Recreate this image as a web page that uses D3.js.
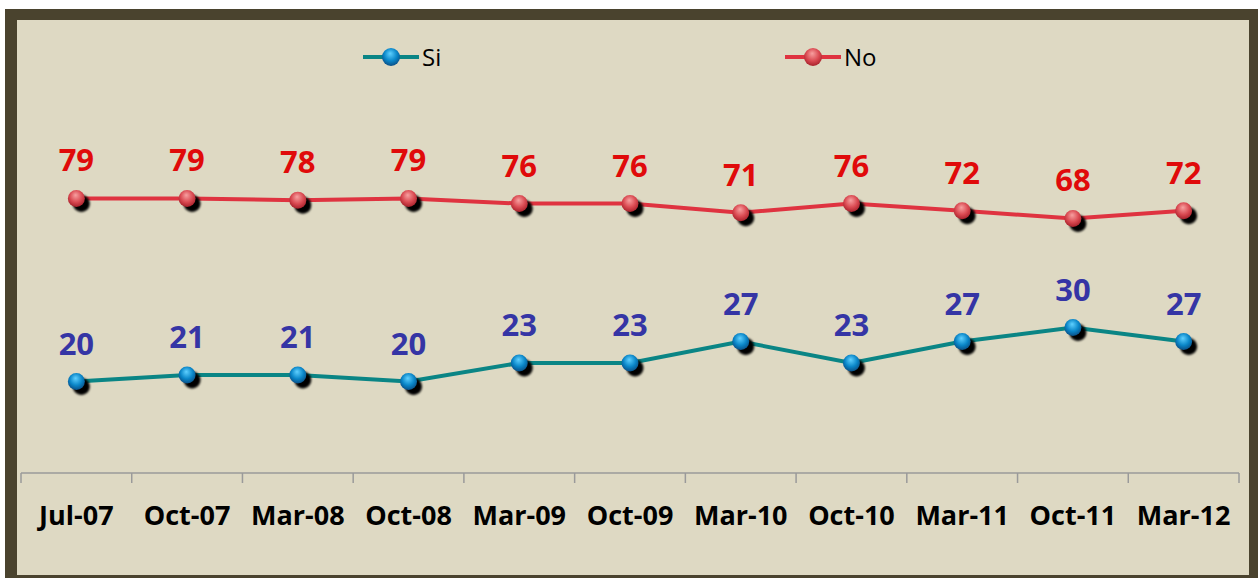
<!DOCTYPE html>
<html>
<head>
<meta charset="utf-8">
<script src="https://cdn.jsdelivr.net/npm/d3@7"></script>
<style>
  body { margin: 0; background: #fff; }
  svg { display: block; font-family: "Open Sans", sans-serif; }
</style>
</head>
<body>
<svg width="1258" height="578"></svg>
<script>
const svg = d3.select("svg");

// data
const periods = ["Jul-07", "Oct-07", "Mar-08", "Oct-08", "Mar-09", "Oct-09", "Mar-10", "Oct-10", "Mar-11", "Oct-11", "Mar-12"];
const siValues = [20, 21, 21, 20, 23, 23, 27, 23, 27, 30, 27];
const noValues = [79, 79, 78, 79, 76, 76, 71, 76, 72, 68, 72];
const seriesNames = ["Si", "No"];

// frame + background
svg.append("rect").attr("x", 5).attr("y", 9).attr("width", 1253).attr("height", 569).attr("fill", "#4A432E");
svg.append("rect").attr("x", 17).attr("y", 20).attr("width", 1232).attr("height", 555).attr("fill", "#DED9C3");

const defs = svg.append("defs");
const blueGrad = defs.append("radialGradient").attr("id", "gBlue").attr("cx", "50%").attr("cy", "40%").attr("r", "60%").attr("fx", "45%").attr("fy", "30%");
blueGrad.append("stop").attr("offset", "0%").attr("stop-color", "#5FD0FF");
blueGrad.append("stop").attr("offset", "60%").attr("stop-color", "#0A86C8");
blueGrad.append("stop").attr("offset", "100%").attr("stop-color", "#0A4F86");
const redGrad = defs.append("radialGradient").attr("id", "gRed").attr("cx", "50%").attr("cy", "40%").attr("r", "60%").attr("fx", "45%").attr("fy", "30%");
redGrad.append("stop").attr("offset", "0%").attr("stop-color", "#F7A0A0");
redGrad.append("stop").attr("offset", "60%").attr("stop-color", "#DA4A52");
redGrad.append("stop").attr("offset", "100%").attr("stop-color", "#A8222C");
const blur = defs.append("filter").attr("id", "blur").attr("x", "-50%").attr("y", "-50%").attr("width", "200%").attr("height", "200%");
blur.append("feGaussianBlur").attr("stdDeviation", 0.9);

// log scale on y: the point heights follow log of the values
const x = d3.scaleBand().domain(periods).range([21, 1239]);
const y = d3.scaleLog().domain([10, 100]).range([474, 167]);

// x axis
const xAxis = svg.append("g").attr("transform", "translate(0,473)");
xAxis.append("line").attr("x1", x.range()[0]).attr("x2", x.range()[1]).attr("stroke", "#9A9A9A").attr("stroke-width", 1.5);
xAxis.selectAll(".tick").data(periods.concat([null])).enter().append("line")
  .attr("x1", (d, i) => x.range()[0] + i * x.step())
  .attr("x2", (d, i) => x.range()[0] + i * x.step())
  .attr("y1", 0).attr("y2", 10)
  .attr("stroke", "#9A9A9A").attr("stroke-width", 1.5);
xAxis.selectAll("text").data(periods).enter().append("text")
  .attr("x", d => x(d) + x.bandwidth() / 2)
  .attr("y", 52)
  .attr("text-anchor", "middle")
  .attr("font-size", 27).attr("font-weight", "bold").attr("fill", "#000")
  .text(d => d);

const series = [
  { name: seriesNames[0], values: siValues, line: "#0A8585", grad: "url(#gBlue)", label: "#3535A5" },
  { name: seriesNames[1], values: noValues, line: "#DF3340", grad: "url(#gRed)", label: "#E00A0A" }
];

const line = d3.line()
  .x((d, i) => x(periods[i]) + x.bandwidth() / 2)
  .y(d => y(d));

series.forEach(s => {
  const g = svg.append("g");
  g.append("path").attr("d", line(s.values)).attr("fill", "none").attr("stroke", s.line).attr("stroke-width", 4);
  g.selectAll(".shadow").data(s.values).enter().append("circle")
    .attr("cx", (d, i) => x(periods[i]) + x.bandwidth() / 2 + 5)
    .attr("cy", d => y(d) + 5)
    .attr("r", 8.5).attr("fill", "#000").attr("filter", "url(#blur)");
  g.selectAll(".dot").data(s.values).enter().append("circle")
    .attr("cx", (d, i) => x(periods[i]) + x.bandwidth() / 2)
    .attr("cy", d => y(d))
    .attr("r", 8.5).attr("fill", s.grad);
  g.selectAll(".lbl").data(s.values).enter().append("text")
    .attr("x", (d, i) => x(periods[i]) + x.bandwidth() / 2)
    .attr("y", d => y(d) - 27)
    .attr("text-anchor", "middle")
    .attr("font-size", 31).attr("font-weight", "bold").attr("fill", s.label)
    .text(d => d);
});

// legend
const legendX = [363, 785];
series.forEach((s, i) => {
  const g = svg.append("g").attr("transform", `translate(${legendX[i]},57)`);
  g.append("line").attr("x1", 0).attr("x2", 56).attr("stroke", s.line).attr("stroke-width", 4);
  g.append("circle").attr("cx", 28).attr("r", 9).attr("fill", s.grad);
  g.append("text").attr("x", 59).attr("y", 8.5).attr("font-size", 24).attr("fill", "#000").text(s.name);
});
</script>
</body>
</html>
